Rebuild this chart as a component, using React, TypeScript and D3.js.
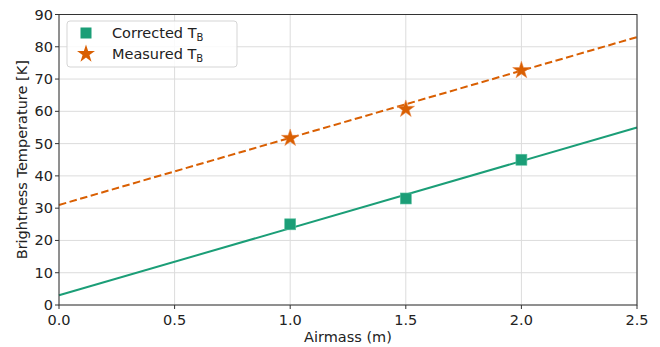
import React from "react";
import * as d3 from "d3";

const airmass = [1.0, 1.5, 2.0];
const correctedTB = [25, 33, 45];
const measuredTB = [52, 61, 73];
const fitX = [0, 2.5];
const correctedFit = [3, 55];
const measuredFit = [31, 83];
const xTicks = [0, 0.5, 1.0, 1.5, 2.0, 2.5];
const yTicks = [0, 10, 20, 30, 40, 50, 60, 70, 80, 90];

const GREEN = "#1b9e77";
const ORANGE = "#d95f02";
const FONT = "DejaVu Sans, sans-serif";
const FS = 14.5;

export default function App() {
  const W = 660, H = 347;
  const m = { left: 59, right: 637, top: 14.5, bottom: 305 };
  const x = d3.scaleLinear().domain([0, 2.5]).range([m.left, m.right]);
  const y = d3.scaleLinear().domain([0, 90]).range([m.bottom, m.top]);
  const line = d3.line<number>().x((_, i) => x(fitX[i])).y((d) => y(d));
  const star = d3.symbol().type(d3.symbolStar).size(95)() as string;
  const starSmall = d3.symbol().type(d3.symbolStar).size(100)() as string;
  const sq = 11;

  return (
    <svg width={W} height={H} style={{ position: "absolute", left: 0, top: 0 }} fontFamily={FONT}>
      <rect width={W} height={H} fill="#fff" />
      {xTicks.map((t) => (
        <line key={"gx" + t} x1={x(t)} x2={x(t)} y1={m.top} y2={m.bottom} stroke="#dcdcdc" strokeWidth={1} />
      ))}
      {yTicks.map((t) => (
        <line key={"gy" + t} x1={m.left} x2={m.right} y1={y(t)} y2={y(t)} stroke="#dcdcdc" strokeWidth={1} />
      ))}
      <path d={line(measuredFit) as string} fill="none" stroke={ORANGE} strokeWidth={2} strokeDasharray="7.5,3.5" />
      <path d={line(correctedFit) as string} fill="none" stroke={GREEN} strokeWidth={2} />
      {airmass.map((a, i) => (
        <rect key={"c" + i} x={x(a) - sq / 2} y={y(correctedTB[i]) - sq / 2} width={sq} height={sq} fill={GREEN} stroke="#5cc0a0" strokeWidth={0.6} />
      ))}
      {airmass.map((a, i) => (
        <path key={"m" + i} d={star} transform={`translate(${x(a)},${y(measuredTB[i]) + 1})`} fill={ORANGE} stroke="#e8894a" strokeWidth={0.5} />
      ))}
      <rect x={m.left} y={m.top} width={m.right - m.left} height={m.bottom - m.top} fill="none" stroke="#333" strokeWidth={1} />
      {xTicks.map((t) => (
        <g key={"xt" + t}>
          <line x1={x(t)} x2={x(t)} y1={m.bottom} y2={m.bottom + 4} stroke="#333" />
          <text x={x(t)} y={m.bottom + 20} textAnchor="middle" fontSize={FS} fill="#222">{t.toFixed(1)}</text>
        </g>
      ))}
      {yTicks.map((t) => (
        <g key={"yt" + t}>
          <line x1={m.left - 4} x2={m.left} y1={y(t)} y2={y(t)} stroke="#333" />
          <text x={m.left - 6} y={y(t) + 5} textAnchor="end" fontSize={FS} fill="#222">{t}</text>
        </g>
      ))}
      <text x={(m.left + m.right) / 2} y={342} textAnchor="middle" fontSize={FS} fill="#222">Airmass (m)</text>
      <text transform={`translate(27,${(m.top + m.bottom) / 2}) rotate(-90)`} textAnchor="middle" fontSize={FS} fill="#222">Brightness Temperature [K]</text>
      <rect x={67} y={21} width={170} height={46} rx={3} fill="#fff" fillOpacity={0.85} stroke="#d5d5d5" strokeWidth={1} />
      <rect x={86 - 5.5} y={33 - 5.5} width={11} height={11} fill={GREEN} />
      <path d={starSmall} transform="translate(86,54)" fill={ORANGE} />
      <text x={112} y={38} fontSize={FS} fill="#222">Corrected T<tspan fontSize={10} dy={3}>B</tspan></text>
      <text x={112} y={59} fontSize={FS} fill="#222">Measured T<tspan fontSize={10} dy={3}>B</tspan></text>
    </svg>
  );
}
